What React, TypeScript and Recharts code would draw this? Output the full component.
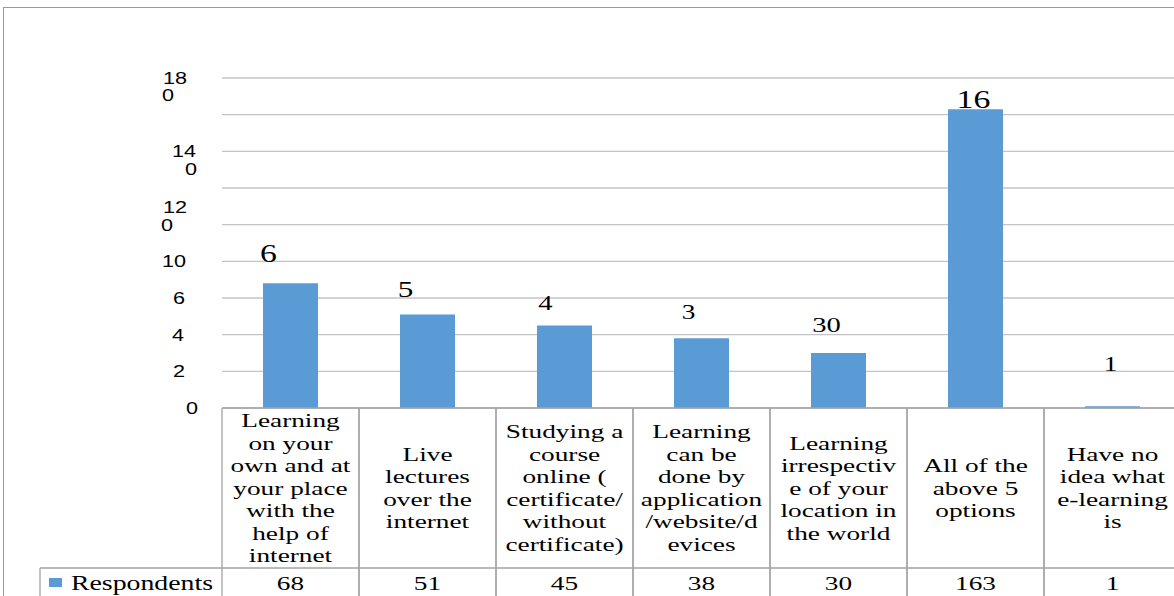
import React from 'react';
import { BarChart, Bar, XAxis, YAxis, CartesianGrid, LabelList } from 'recharts';

const CATEGORIES = [
  ['Learning', 'on your', 'own and at', 'your place', 'with the', 'help of', 'internet'],
  ['Live', 'lectures', 'over the', 'internet'],
  ['Studying a', 'course', 'online (', 'certificate/', 'without', 'certificate)'],
  ['Learning', 'can be', 'done by', 'application', '/website/d', 'evices'],
  ['Learning', 'irrespectiv', 'e of your', 'location in', 'the world'],
  ['All of the', 'above 5', 'options'],
  ['Have no', 'idea what', 'e-learning', 'is'],
];
const RESPONDENTS = [68, 51, 45, 38, 30, 163, 1];
// the labels above the bars are cut off in the original
const BAR_LABELS = ['6', '5', '4', '3', '30', '16', '1'];
const SERIES_NAME = 'Respondents';
const Y_TICKS = [0, 20, 40, 60, 80, 100, 120, 140, 160, 180];
const Y_TICK_LABELS = [['0'], ['2'], ['4'], ['6'], ['10'], ['12', '0'], [], ['14', '0'], [], ['18', '0']];

// styling only
const BAR_LABEL_STYLE = [
  { dx: -22, dy: -30, size: 26 },
  { dx: -22, dy: -26, size: 24 },
  { dx: -19, dy: -23, size: 22 },
  { dx: -13, dy: -27, size: 21 },
  { dx: -12, dy: -28, size: 22 },
  { dx: -2, dy: -10, size: 26 },
  { dx: -2, dy: -42, size: 21 },
];
const Y_TICK_OFFSETS: number[][][] = [
  [[-24, 0]],
  [[-37, 0]],
  [[-38, 0]],
  [[-37, 0]],
  [[-36, 0]],
  [[-35, -18], [-49, 0]],
  [],
  [[-26, 0], [-25, 18]],
  [],
  [[-35, 0], [-48, 17]],
];

const CHART_W = 1200;
const CHART_H = 596;
const Y_AXIS_W = 222;
const MARGIN_RIGHT = 19;
const CELL_W = (CHART_W - Y_AXIS_W - MARGIN_RIGHT) / CATEGORIES.length;
const CAT_ROW_H = 160;
const LINE_H = 22.5;
const BAR_COLOR = '#5b9bd5';
const BORDER = '#a3a3a3';
const SERIF = '"Liberation Serif", "Times New Roman", serif';
const SANS = '"Liberation Sans", Arial, sans-serif';

const data = CATEGORIES.map((lines, i) => ({ name: lines.join(' '), value: RESPONDENTS[i] }));

function Stretched({ x, y, sx, anchor, size, family, children }: any) {
  return (
    <text
      transform={`translate(${x},${y}) scale(${sx},1)`}
      textAnchor={anchor}
      dominantBaseline="central"
      fontSize={size}
      fontFamily={family}
      fill="#000"
    >
      {children}
    </text>
  );
}

function YTick({ x, y, payload }: any) {
  const i = Y_TICKS.indexOf(payload.value);
  const lines = Y_TICK_LABELS[i] || [];
  return (
    <g>
      {lines.map((t, k) => {
        const [dx, dy] = Y_TICK_OFFSETS[i][k];
        return (
          <Stretched key={k} x={x + dx} y={y + dy} sx={1.27} anchor="end" size={17} family={SANS}>
            {t}
          </Stretched>
        );
      })}
    </g>
  );
}

function CategoryCell({ x, y, index }: any) {
  const lines = CATEGORIES[index];
  const left = x - CELL_W / 2;
  const right = x + CELL_W / 2;
  const rowY = y + CAT_ROW_H;
  const mid = y + CAT_ROW_H / 2;
  const first = mid - ((lines.length - 1) * LINE_H) / 2;
  return (
    <g>
      <line x1={left} y1={y} x2={left} y2={CHART_H} stroke={BORDER} strokeWidth={1.3} />
      <line x1={right} y1={y} x2={right} y2={CHART_H} stroke={BORDER} strokeWidth={1.3} />
      <line x1={left} y1={rowY} x2={right} y2={rowY} stroke={BORDER} strokeWidth={1.3} />
      {lines.map((t, k) => (
        <Stretched key={k} x={x} y={first + k * LINE_H} sx={1.4} anchor="middle" size={19.5} family={SERIF}>
          {t}
        </Stretched>
      ))}
      <Stretched x={x} y={rowY + 15} sx={1.4} anchor="middle" size={19.5} family={SERIF}>
        {RESPONDENTS[index]}
      </Stretched>
      {index === 0 && (
        <g>
          <line x1={40} y1={rowY} x2={left} y2={rowY} stroke={BORDER} strokeWidth={1.3} />
          <line x1={40} y1={rowY} x2={40} y2={CHART_H} stroke={BORDER} strokeWidth={1.3} />
          <rect x={49} y={rowY + 10} width={13} height={9} fill={BAR_COLOR} />
          <Stretched x={71} y={rowY + 15} sx={1.39} anchor="start" size={20} family={SERIF}>
            {SERIES_NAME}
          </Stretched>
        </g>
      )}
    </g>
  );
}

function BarTopLabel({ x, y, width, index }: any) {
  const s = BAR_LABEL_STYLE[index];
  return (
    <Stretched x={x + width / 2 + s.dx} y={y + s.dy} sx={1.3} anchor="middle" size={s.size} family={SERIF}>
      {BAR_LABELS[index]}
    </Stretched>
  );
}

export default function App() {
  return (
    <div style={{ position: 'relative', width: 1174, height: 596, overflow: 'hidden', background: '#fff' }}>
      <style>{'body{margin:0}'}</style>
      <div
        style={{
          position: 'absolute',
          left: 3,
          top: 7,
          width: 1300,
          height: 700,
          borderTop: '1px solid #9a9a9a',
          borderLeft: '1px solid #9a9a9a',
        }}
      />
      <div style={{ position: 'absolute', left: 0, top: 0 }}>
        <BarChart
          width={CHART_W}
          height={CHART_H}
          data={data}
          margin={{ top: 78, right: MARGIN_RIGHT, bottom: 0, left: 0 }}
        >
          <CartesianGrid vertical={false} stroke="#c4c4c4" strokeWidth={1.3} />
          <YAxis
            width={Y_AXIS_W}
            domain={[0, 180]}
            ticks={Y_TICKS}
            interval={0}
            axisLine={false}
            tickLine={false}
            tickSize={0}
            tickMargin={0}
            tick={<YTick />}
          />
          <XAxis
            dataKey="name"
            height={CHART_H - 408}
            interval={0}
            axisLine={{ stroke: BORDER, strokeWidth: 1.3 }}
            tickLine={false}
            tickSize={0}
            tickMargin={0}
            tick={<CategoryCell />}
          />
          <Bar dataKey="value" fill={BAR_COLOR} barSize={55} isAnimationActive={false}>
            <LabelList dataKey="value" content={<BarTopLabel />} />
          </Bar>
        </BarChart>
      </div>
    </div>
  );
}
